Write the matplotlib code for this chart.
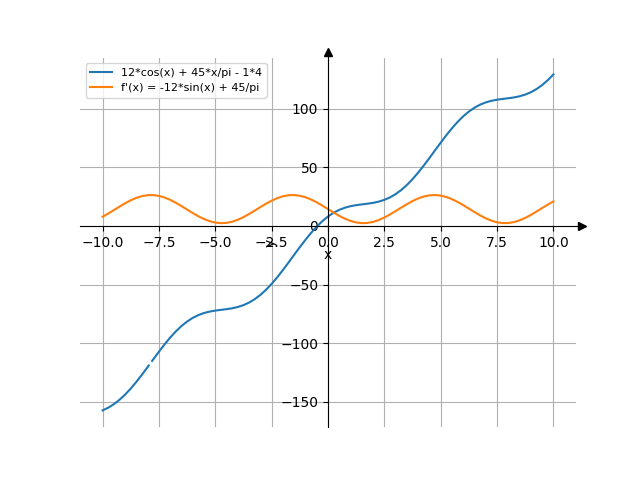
import numpy as np
import matplotlib
matplotlib.use('Agg')
import matplotlib.pyplot as plt

# sample positions read along the x axis
x_vals = [-10.0, -9.75, -9.5, -9.25, -9.0, -8.75, -8.5, -8.25, -8.0,
          -7.75, -7.5, -7.25, -7.0, -6.75, -6.5, -6.25, -6.0, -5.75, -5.5,
          -5.25, -5.0, -4.75, -4.5, -4.25, -4.0, -3.75, -3.5, -3.25, -3.0,
          -2.75, -2.5, -2.25, -2.0, -1.75, -1.5, -1.25, -1.0, -0.75, -0.5,
          -0.25, 0.0, 0.25, 0.5, 0.75, 1.0, 1.25, 1.5, 1.75, 2.0, 2.25, 2.5,
          2.75, 3.0, 3.25, 3.5, 3.75, 4.0, 4.25, 4.5, 4.75, 5.0, 5.25, 5.5,
          5.75, 6.0, 6.25, 6.5, 6.75, 7.0, 7.25, 7.5, 7.75, 8.0, 8.25, 8.5,
          8.75, 9.0, 9.25, 9.5, 9.75, 10.0]

# blue curve, drawn in two pieces (small break near x = -7.9)
f_left_x = [-10.0, -9.75, -9.5, -9.25, -9.0, -8.75, -8.5, -8.25, -8.0, -7.95]
f_left_y = [-157.31, -155.03, -152.04, -148.31, -143.85, -138.70, -132.98,
            -126.80, -120.34, -119.03]
f_right_x = [-7.8] + x_vals[9:]
f_right_y = [-115.08, -113.76, -107.27, -101.03, -95.22, -89.97, -85.39,
             -81.53, -78.42, -76.03, -74.28, -73.06, -72.22, -71.59, -70.99,
             -70.23, -69.14, -67.56, -65.37, -62.48, -58.85, -54.48, -49.42,
             -43.77, -37.64, -31.21, -24.64, -18.12, -11.84, -5.96, -0.63,
             4.05, 8.0, 11.21, 13.69, 15.52, 16.81, 17.69, 18.33, 18.93, 19.65,
             20.69, 22.20, 24.30, 27.09, 30.62, 34.90, 39.87, 45.45, 51.52,
             57.93, 64.49, 71.02, 77.35, 83.29, 88.70, 93.47, 97.52, 100.82,
             103.40, 105.31, 106.66, 107.59, 108.26, 108.85, 109.54, 110.53,
             111.96, 113.98, 116.68, 120.11, 124.29, 129.17]

# orange curve
df_y = [7.80, 10.49, 13.42, 16.41, 19.27, 21.82, 23.91, 25.38, 26.20, 26.26,
        25.58, 24.20, 22.21, 19.72, 16.91, 13.93, 10.97, 8.22, 5.86, 4.02,
        2.83, 2.33, 2.59, 3.58, 5.24, 7.47, 10.11, 13.03, 16.02, 18.90, 21.51,
        23.66, 25.24, 26.13, 26.29, 25.71, 24.42, 22.50, 20.08, 17.29, 14.32,
        11.36, 8.57, 6.14, 4.23, 2.94, 2.35, 2.52, 3.41, 4.99, 7.14, 9.74,
        12.63, 15.62, 18.53, 21.18, 23.41, 25.06, 26.05, 26.32, 25.83, 24.63,
        22.79, 20.42, 17.68, 14.72, 11.74, 8.92, 6.44, 4.45, 3.07, 2.39, 2.45,
        3.25, 4.74, 6.83, 9.38, 12.24, 15.23, 18.16, 20.85]

fig, ax = plt.subplots(figsize=(6.4, 4.8), dpi=100)

ax.plot(f_left_x, f_left_y, color='C0')
ax.plot(f_right_x, f_right_y, color='C0', label='12*cos(x) + 45*x/pi - 1*4')
ax.plot(x_vals, df_y, color='C1', label="f'(x) = -12*sin(x) + 45/pi")

ax.spines['left'].set_position('zero')
ax.spines['bottom'].set_position('zero')
ax.spines['top'].set_visible(False)
ax.spines['right'].set_visible(False)

# arrow heads at the ends of the axes
ax.plot([1, 1.008], [0, 0], color='k', lw=0.8, transform=ax.get_yaxis_transform(), clip_on=False)
ax.plot([0, 0], [1, 1.01], color='k', lw=0.8, transform=ax.get_xaxis_transform(), clip_on=False)
ax.plot(1.012, 0, '>k', transform=ax.get_yaxis_transform(), clip_on=False)
ax.plot(0, 1.015, '^k', transform=ax.get_xaxis_transform(), clip_on=False)

ax.set_xlabel('x', labelpad=-1)
ax.set_ylabel('y', labelpad=2)
ax.grid(True)

handles, labels = ax.get_legend_handles_labels()
ax.legend(handles, labels, loc='upper left', fontsize=8)

fig.savefig('out.png', dpi=100)
